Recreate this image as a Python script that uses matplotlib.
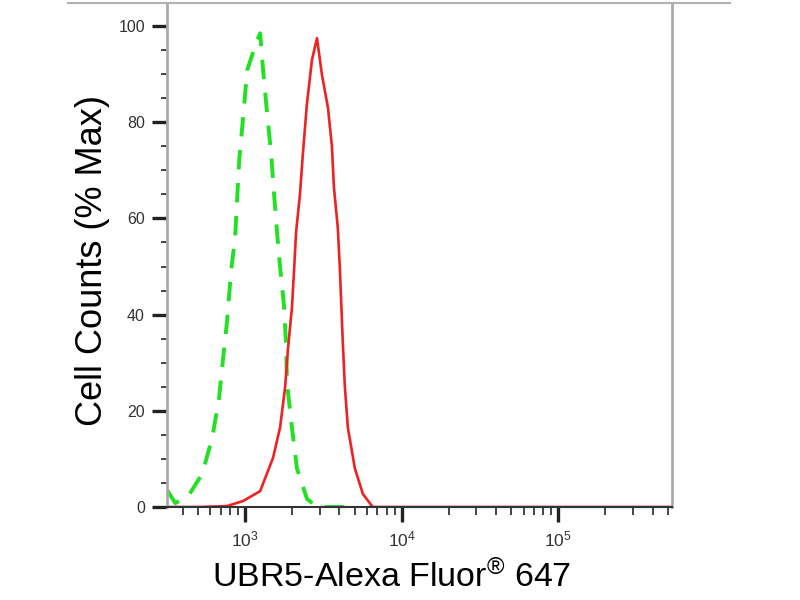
import numpy as np
import matplotlib.pyplot as plt
from matplotlib.lines import Line2D
from matplotlib.ticker import LogLocator, MultipleLocator, NullFormatter

plt.rcParams['font.family'] = ['Liberation Sans', 'DejaVu Sans']
plt.rcParams['mathtext.fontset'] = 'custom'
plt.rcParams['mathtext.rm'] = 'Liberation Sans'
plt.rcParams['mathtext.it'] = 'Liberation Sans'

# control (isotype) histogram, green dashed
ctrl_x = [318, 358, 434, 532, 617, 682, 724, 767, 813, 863, 889, 916, 971,
          1030, 1191, 1247, 1303, 1380, 1466, 1531, 1600, 1671, 1770, 1824,
          1854, 1991, 2143, 2483, 2877, 4667]
ctrl_y = [3.5, 0.8, 2.3, 6.9, 14.4, 22.7, 31, 38.7, 49, 56, 64, 72, 81,
          90.8, 97, 98.5, 90.8, 82, 73.5, 65, 57, 50, 42, 34, 25.6, 16.5,
          8, 1.7, 0, 0]

# UBR5 stained histogram, red solid
ubr5_x = [318, 513, 767, 971, 1247, 1507, 1671, 1799, 1879, 1991, 2060,
          2113, 2239, 2339, 2483, 2673, 2877, 3090, 3381, 3583, 3690, 3908,
          4027, 4207, 4335, 4529, 5023, 5650, 6531, 100000, 532000]
ubr5_y = [0, 0, 0.2, 1.25, 3.3, 10.2, 16.5, 24.8, 33, 41.5, 50, 57, 65,
          73.5, 84, 93, 97.5, 90, 83, 75, 66.5, 58, 49.6, 34, 25, 16.5, 8,
          2.7, 0, 0, 0]

fig = plt.figure(figsize=(8, 6), dpi=100)
ax = fig.add_axes([0.209, 0.155, 0.631, 0.84])

ax.plot(ctrl_x, ctrl_y, color='#22e022', lw=2.8, ls=(0, (5, 3.5)))
ax.plot(ubr5_x, ubr5_y, color='#ee2222', lw=1.9)

ax.set_xscale('log')
ax.set_xlim(318, 532000)
ax.set_ylim(0, 104.8)

ax.xaxis.set_major_locator(LogLocator(base=10, numticks=10))
ax.xaxis.set_minor_locator(LogLocator(base=10, subs=np.arange(2, 10), numticks=20))
ax.xaxis.set_minor_formatter(NullFormatter())
ax.yaxis.set_major_locator(MultipleLocator(20))
ax.yaxis.set_minor_locator(MultipleLocator(5))

ax.tick_params(axis='both', which='major', direction='out', colors='#222222',
               width=2.4)
ax.tick_params(axis='y', which='major', length=11, pad=5, labelsize=11.5)
ax.tick_params(axis='x', which='major', length=10.5, pad=6, labelsize=12.5)
ax.tick_params(axis='y', which='minor', direction='out', length=4,
               width=1.4, color='#444444')
ax.tick_params(axis='x', which='minor', direction='out', length=6,
               width=1.4, color='#444444')
for lab in ax.get_xticklabels() + ax.get_yticklabels():
    lab.set_color('#333333')

ax.spines['left'].set_color('#aaaaaa')
ax.spines['left'].set_linewidth(2)
ax.spines['right'].set_color('#aaaaaa')
ax.spines['right'].set_linewidth(2)
ax.spines['top'].set_visible(False)
ax.spines['bottom'].set_color('#333333')
ax.spines['bottom'].set_linewidth(1.5)

# thin grey border line running across the top of the image
fig.add_artist(Line2D([0.085, 0.913], [0.995, 0.995], color='#b0b0b0',
                      lw=1.5, transform=fig.transFigure))

ax.set_ylabel('Cell Counts (% Max)', fontsize=26)
ax.yaxis.set_label_coords(-0.113, 0.49)
ax.set_xlabel('UBR5-Alexa Fluor$^{\u00ae}$ 647', fontsize=24.5)
ax.xaxis.set_label_coords(0.444, -0.106)

fig.savefig('out.png', dpi=100)
